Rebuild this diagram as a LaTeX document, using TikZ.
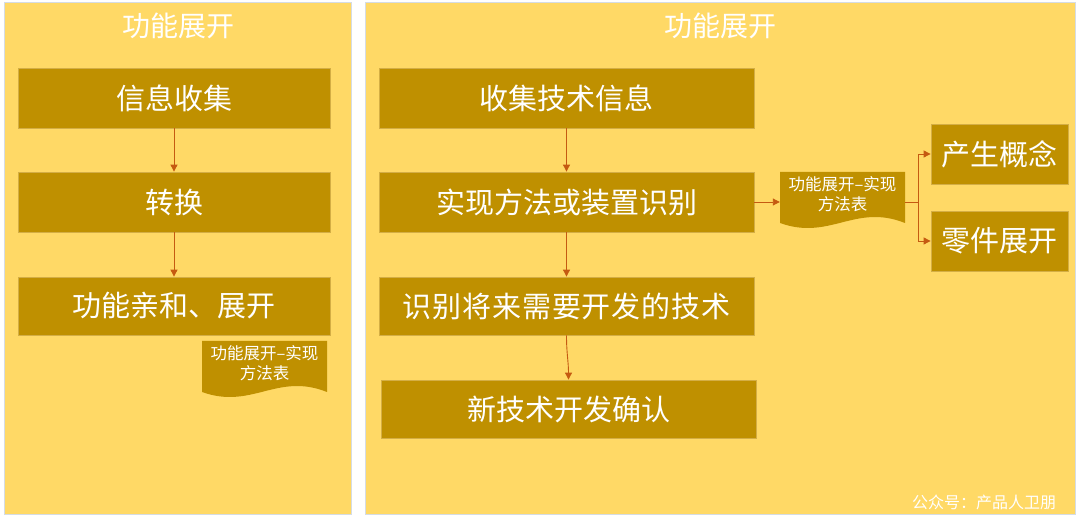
\documentclass[tikz,border=0pt]{standalone}
\usepackage{fontspec}
\setmainfont{Noto Sans CJK SC}
\usetikzlibrary{arrows.meta}
\definecolor{panelfill}{HTML}{FFD966}
\definecolor{panelline}{HTML}{D5DCE4}
\definecolor{boxfill}{HTML}{BF9000}
\definecolor{boxline}{HTML}{D4AE45}
\definecolor{arrowc}{HTML}{C55A11}
\tikzset{
  panel/.style={fill=panelfill,draw=panelline,line width=0.8pt},
  stepbox/.style={fill=boxfill,draw=boxline,line width=0.8pt,text=white,inner sep=0pt,
    font=\fontsize{29}{32}\selectfont},
  ptitle/.style={text=white,font=\fontsize{28}{30}\selectfont,inner sep=0pt},
  doctext/.style={text=white,font=\fontsize{16.5}{20}\selectfont,align=center,inner sep=0pt},
  docshape/.style={fill=boxfill,draw=none},
  conn/.style={draw=arrowc,line width=0.9pt,-{Triangle[length=7pt,width=7pt]}},
  connplain/.style={draw=arrowc,line width=0.9pt},
}
\begin{document}
\begin{tikzpicture}[x=1pt,y=-1pt]
\useasboundingbox (0,0) rectangle (1080,521);
% panels
\path[panel] (4,2) rectangle (351,514);
\path[panel] (365,2) rectangle (1075,514);
\node[ptitle] (t1) at (178,26) {功能展开};
\node[ptitle] (t2) at (720,26) {功能展开};
% left boxes
\node[stepbox,minimum width=312pt,minimum height=60pt] (l1) at (174,98) {信息收集};
\node[stepbox,minimum width=312pt,minimum height=60pt] (l2) at (174,202) {转换};
\node[stepbox,minimum width=312pt,minimum height=58pt] (l3) at (174,306) {功能亲和、展开};
\draw[conn] (l1.south) -- (l2.north);
\draw[conn] (l2.south) -- (l3.north);
% left document
\path[docshape] (202,341) -- (327,341) -- (327,392) .. controls (277,372) and (252,410) .. (202,392) -- cycle;
\node[doctext] (d1) at (264.5,363) {功能展开–实现\\方法表};
% right boxes
\node[stepbox,minimum width=375pt,minimum height=60pt] (r1) at (566.5,98) {收集技术信息};
\node[stepbox,minimum width=375pt,minimum height=60pt] (r2) at (566.5,202) {实现方法或装置识别};
\node[stepbox,minimum width=375pt,minimum height=58pt,font=\fontsize{29}{32}\selectfont\addfontfeature{LetterSpace=3}] (r3) at (566.5,306) {识别将来需要开发的技术};
\node[stepbox,minimum width=375pt,minimum height=58pt] (r4) at (568.5,409) {新技术开发确认};
\draw[conn] (r1.south) -- (r2.north);
\draw[conn] (r2.south) -- (r3.north);
\draw[conn] (r3.south) .. controls +(0,18) and +(0,-18) .. (r4.north);
% right document
\path[docshape] (780,172) -- (905,172) -- (905,223) .. controls (855,203) and (830,241) .. (780,223) -- cycle;
\node[doctext,minimum width=125pt,minimum height=51pt] (d2) at (842.5,194) {功能展开–实现\\方法表};
\draw[conn] (r2.east) -- (r2.east -| d2.west);
% concept boxes
\node[stepbox,minimum width=137pt,minimum height=60pt] (c1) at (999.5,154) {产生概念};
\node[stepbox,minimum width=137pt,minimum height=60pt] (c2) at (999.5,241) {零件展开};
\coordinate (split) at (918,202);
\draw[connplain] (d2.east |- r2.east) -- (split);
\draw[conn] (split) |- (c1.west);
\draw[conn] (split) |- (c2.west);
% watermark
\node[text=white,font=\fontsize{16}{18}\selectfont,inner sep=0pt] (wm) at (984,502) {公众号：产品人卫朋};
\end{tikzpicture}
\end{document}
